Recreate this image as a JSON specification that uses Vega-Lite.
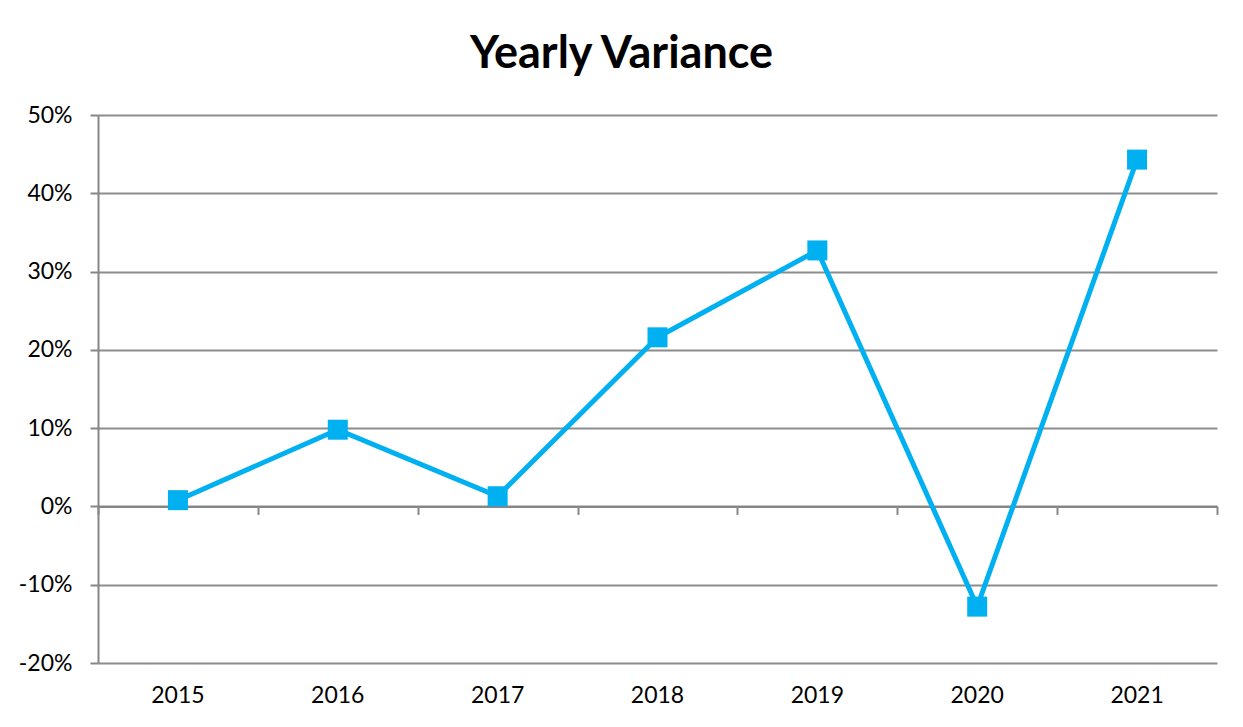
{
  "$schema": "https://vega.github.io/schema/vega-lite/v6.json",
  "width": 1119,
  "height": 548,
  "autosize": {"type": "none"},
  "padding": {"left": 98, "top": 115, "right": 26, "bottom": 64},
  "background": "white",
  "title": {
    "text": "Yearly Variance",
    "font": "Lato",
    "fontSize": 45,
    "fontWeight": "bold",
    "color": "black",
    "anchor": "middle",
    "frame": "group",
    "dx": -36,
    "offset": -9,
    "baseline": "alphabetic"
  },
  "config": {
    "view": {"stroke": null},
    "axis": {"labelFont": "Lato", "labelFontSize": 23, "labelColor": "black"}
  },
  "data": {
    "values": [
      {"year": "2015", "variance": 0.008},
      {"year": "2016", "variance": 0.098},
      {"year": "2017", "variance": 0.013},
      {"year": "2018", "variance": 0.216},
      {"year": "2019", "variance": 0.327},
      {"year": "2020", "variance": -0.128},
      {"year": "2021", "variance": 0.443}
    ]
  },
  "resolve": {"axis": {"x": "independent"}},
  "layer": [
    {
      "mark": {"type": "point", "opacity": 0},
      "encoding": {
        "x": {
          "field": "year",
          "type": "ordinal",
          "scale": {"type": "band", "paddingInner": 0, "paddingOuter": 0},
          "axis": {
            "orient": "bottom",
            "offset": -156.6,
            "labels": false,
            "title": null,
            "domain": true,
            "domainColor": "#868686",
            "domainWidth": 2,
            "ticks": true,
            "tickBand": "extent",
            "tickSize": 8,
            "tickColor": "#868686",
            "tickWidth": 2,
            "grid": false
          }
        },
        "y": {"field": "variance", "type": "quantitative"}
      }
    },
    {
      "mark": {
        "type": "line",
        "color": "#00B0F0",
        "strokeWidth": 5,
        "point": {"shape": "square", "size": 400, "filled": true, "color": "#00B0F0", "opacity": 1}
      },
      "encoding": {
        "x": {
          "field": "year",
          "type": "ordinal",
          "scale": {"type": "band", "paddingInner": 0, "paddingOuter": 0},
          "axis": {
            "orient": "bottom",
            "title": null,
            "labelAngle": 0,
            "domain": false,
            "ticks": false,
            "tickSize": 0,
            "labelPadding": 21,
            "grid": false
          }
        },
        "y": {
          "field": "variance",
          "type": "quantitative",
          "scale": {"domain": [-0.2, 0.5], "nice": false, "zero": false},
          "axis": {
            "title": null,
            "format": ".0%",
            "labelExpr": "replace(datum.label, '\u2212', '-')",
            "values": [-0.2, -0.1, 0, 0.1, 0.2, 0.3, 0.4, 0.5],
            "domain": true,
            "domainColor": "#868686",
            "domainWidth": 2,
            "ticks": true,
            "tickSize": 8,
            "tickColor": "#868686",
            "tickWidth": 2,
            "labelPadding": 18,
            "grid": true,
            "gridColor": "#8c8c8c",
            "gridWidth": 2
          }
        }
      }
    }
  ]
}
